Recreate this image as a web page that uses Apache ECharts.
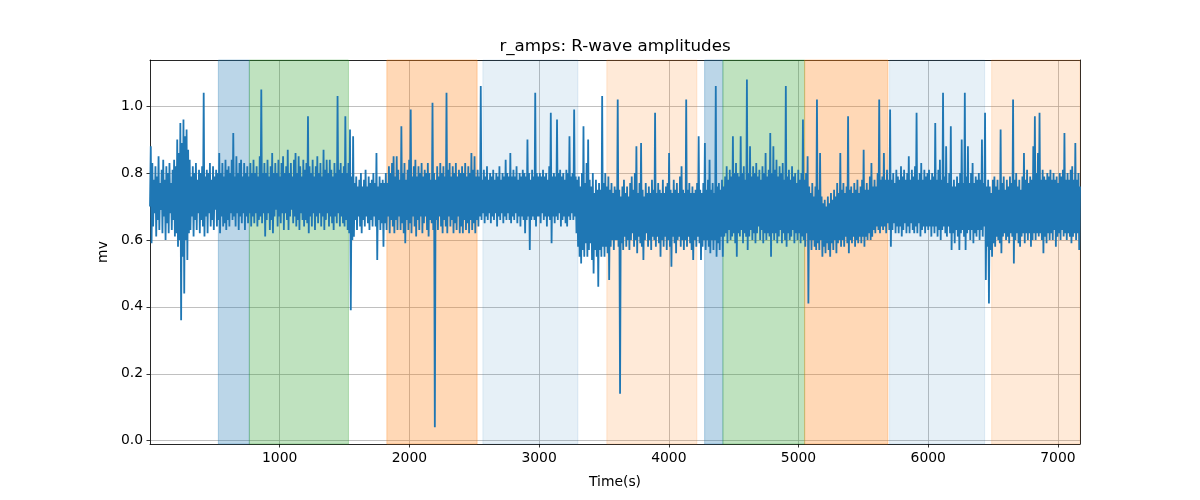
<!DOCTYPE html>
<html><head><meta charset="utf-8">
<script src="https://cdn.jsdelivr.net/npm/echarts@6/dist/echarts.min.js"></script>
<style>html,body{margin:0;padding:0;background:#fff}#c{width:1200px;height:500px}</style>
</head><body><div id="c"></div>
<script>
// sample grid (seconds)
const sampleStart = 0, sampleStep = 6;
// R-wave amplitudes (mV), 600 s per chunk
const amps0000 = [0.70,0.88,0.59,0.83,0.64,0.78,0.68,0.82,0.61,0.79,0.66,0.85,0.63,0.77,0.69,0.81,0.62,0.84,0.67,0.78,0.60,0.82,0.65,0.80,0.62,0.83,0.68,0.77,0.63,0.81,0.66,0.84,0.61,0.82,0.62,0.90,0.58,0.86,0.60,0.95,0.36,0.89,0.55,0.96,0.44,0.91,0.60,0.93,0.54,0.87,0.62,0.84,0.63,0.79,0.67,0.82,0.61,0.80,0.66,0.83,0.63,0.78,0.68,0.81,0.62,0.80,0.66,0.82,0.64,1.04,0.61,0.79,0.67,0.81,0.62,0.80,0.68,0.83,0.64,0.78,0.66,0.82,0.63,0.79,0.69,0.81,0.64,0.80,0.66,0.86,0.62,0.80,0.67,0.83,0.64,0.79,0.65,0.84,0.63,0.81];
const amps0600 = [0.66,0.82,0.64,0.80,0.68,0.84,0.66,0.92,0.67,0.79,0.64,0.85,0.68,0.80,0.63,0.83,0.67,0.84,0.65,0.79,0.68,0.83,0.63,0.80,0.67,0.82,0.65,0.79,0.68,0.83,0.64,0.80,0.67,0.84,0.65,0.80,0.68,0.82,0.64,0.79,0.66,0.85,0.67,1.05,0.65,0.80,0.68,0.83,0.61,0.80,0.66,0.84,0.68,0.79,0.63,0.82,0.66,0.86,0.62,0.80,0.67,0.83,0.69,0.80,0.64,0.84,0.67,0.79,0.65,0.83,0.68,0.85,0.63,0.80,0.68,0.82,0.66,0.87,0.63,0.80,0.67,0.83,0.69,0.79,0.65,0.84,0.67,0.86,0.64,0.80,0.66,0.85,0.63,0.82,0.68,0.79,0.66,0.84,0.64,0.81];
const amps1200 = [0.66,0.83,0.65,0.97,0.62,0.82,0.67,0.80,0.64,0.84,0.68,0.79,0.63,0.82,0.67,0.85,0.65,0.80,0.68,0.83,0.64,0.79,0.67,0.87,0.63,0.81,0.66,0.84,0.68,0.80,0.64,0.84,0.67,0.81,0.65,0.79,0.63,0.83,0.67,0.80,0.65,1.03,0.68,0.81,0.64,0.83,0.67,0.80,0.65,0.82,0.64,0.97,0.66,0.80,0.63,0.83,0.62,0.93,0.39,0.79,0.60,0.91,0.61,0.77,0.66,0.79,0.63,0.76,0.67,0.78,0.64,0.80,0.62,0.76,0.66,0.78,0.64,0.81,0.67,0.76,0.65,0.79,0.63,0.77,0.66,0.78,0.64,0.80,0.67,0.77,0.64,0.86,0.54,0.76,0.66,0.79,0.63,0.77,0.65,0.78];
const amps1800 = [0.58,0.77,0.65,0.80,0.63,0.77,0.67,0.82,0.62,0.80,0.66,0.83,0.64,0.85,0.62,0.79,0.66,0.85,0.63,0.81,0.67,0.78,0.63,0.94,0.65,0.80,0.62,0.83,0.59,0.78,0.66,0.81,0.63,0.84,0.65,0.99,0.62,0.79,0.67,0.82,0.64,0.84,0.61,0.79,0.66,0.82,0.63,0.80,0.67,0.83,0.62,0.79,0.65,0.81,0.67,0.80,0.63,0.83,0.61,0.80,0.66,0.78,0.65,1.01,0.63,0.80,0.04,0.78,0.66,0.82,0.63,0.79,0.67,0.83,0.64,0.80,0.62,0.82,0.66,0.79,0.64,1.04,0.62,0.81,0.67,0.83,0.64,0.79,0.66,0.82,0.62,0.80,0.65,0.83,0.63,0.79,0.67,0.81,0.62,0.80];
const amps2400 = [0.64,0.82,0.62,0.80,0.66,0.83,0.63,0.79,0.65,0.82,0.62,0.80,0.66,0.86,0.63,0.81,0.65,0.85,0.62,0.79,0.66,0.81,0.64,0.79,0.67,1.06,0.66,0.78,0.68,0.81,0.65,0.79,0.67,0.82,0.66,0.78,0.68,0.80,0.65,0.79,0.67,0.81,0.66,0.78,0.68,0.80,0.64,0.79,0.67,0.82,0.66,0.78,0.68,0.80,0.65,0.79,0.67,0.84,0.66,0.80,0.68,0.79,0.66,0.86,0.65,0.79,0.67,0.81,0.66,0.79,0.68,0.82,0.65,0.78,0.67,0.80,0.64,0.79,0.67,0.81,0.66,0.80,0.62,0.79,0.66,0.90,0.67,0.80,0.57,0.78,0.66,0.81,0.67,0.79,0.66,1.04,0.64,0.80,0.67,0.79];
const amps3000 = [0.67,0.80,0.65,0.79,0.68,0.81,0.66,0.79,0.67,0.80,0.64,0.78,0.67,0.82,0.66,0.98,0.59,0.79,0.67,0.80,0.65,0.79,0.67,0.96,0.66,0.80,0.68,0.81,0.64,0.79,0.66,0.80,0.67,0.78,0.65,0.81,0.64,0.80,0.67,0.91,0.66,0.79,0.68,0.80,0.66,0.99,0.67,0.79,0.62,0.78,0.58,0.79,0.55,0.76,0.53,0.80,0.57,0.94,0.55,0.77,0.59,0.83,0.55,0.90,0.57,0.78,0.59,0.76,0.54,0.80,0.50,0.74,0.57,0.78,0.55,0.75,0.46,0.77,0.57,0.75,0.55,1.03,0.58,0.77,0.55,0.80,0.58,0.76,0.56,0.79,0.48,0.75,0.58,0.77,0.60,0.74,0.57,0.76,0.60,0.75];
const amps3600 = [0.60,1.02,0.58,0.75,0.14,0.73,0.59,0.76,0.57,0.78,0.61,0.74,0.58,0.76,0.60,0.73,0.57,0.77,0.60,0.79,0.62,0.75,0.58,0.80,0.60,0.88,0.56,0.74,0.61,0.77,0.59,0.89,0.58,0.75,0.54,0.73,0.60,0.77,0.62,0.74,0.58,0.76,0.60,0.74,0.57,0.78,0.61,0.75,0.60,0.98,0.58,0.74,0.61,0.77,0.59,0.75,0.55,0.74,0.60,0.78,0.58,0.74,0.61,0.76,0.57,0.77,0.60,0.86,0.58,0.75,0.52,0.74,0.61,0.78,0.59,0.75,0.56,0.77,0.60,0.74,0.61,0.79,0.58,0.82,0.60,0.75,0.57,0.74,0.60,1.02,0.58,0.75,0.61,0.77,0.59,0.74,0.57,0.76,0.54,0.74];
const amps4200 = [0.60,0.75,0.58,0.77,0.61,0.91,0.59,0.75,0.54,0.74,0.58,0.77,0.60,0.89,0.57,0.75,0.60,0.78,0.58,0.84,0.56,0.75,0.60,0.77,0.57,0.74,0.60,1.06,0.55,0.76,0.59,0.77,0.57,0.75,0.61,0.78,0.55,0.76,0.61,0.79,0.62,0.82,0.59,0.78,0.63,0.81,0.60,0.79,0.61,0.91,0.62,0.80,0.59,0.83,0.55,0.80,0.62,0.79,0.61,0.91,0.63,0.80,0.59,0.82,0.62,0.78,0.61,1.08,0.57,0.80,0.61,0.88,0.63,0.79,0.60,0.82,0.62,0.80,0.59,0.83,0.62,0.79,0.64,0.81,0.60,0.78,0.63,0.82,0.59,0.80,0.62,0.86,0.60,0.79,0.62,0.81,0.61,0.92,0.55,0.80];
const amps4800 = [0.62,0.88,0.60,0.81,0.62,0.84,0.59,0.79,0.61,0.82,0.63,0.80,0.59,0.83,0.62,0.78,0.60,1.06,0.58,0.79,0.62,0.81,0.60,0.78,0.61,0.82,0.63,0.79,0.59,0.80,0.62,0.77,0.60,0.81,0.62,0.78,0.59,0.80,0.61,0.96,0.60,0.78,0.58,0.80,0.62,0.85,0.41,0.76,0.60,0.74,0.57,0.77,0.60,0.73,0.58,0.76,0.57,1.02,0.59,0.75,0.57,0.86,0.60,0.73,0.55,0.71,0.58,0.72,0.56,0.70,0.59,0.73,0.57,0.71,0.55,0.74,0.59,0.72,0.57,0.75,0.60,0.73,0.56,0.77,0.59,0.74,0.60,0.86,0.58,0.75,0.60,0.77,0.58,0.74,0.61,0.76,0.59,0.97,0.56,0.75];
const amps5400 = [0.60,0.76,0.59,0.74,0.61,0.77,0.58,0.75,0.60,0.78,0.59,0.74,0.61,0.76,0.59,0.78,0.61,0.87,0.58,0.75,0.61,0.77,0.60,0.75,0.62,0.79,0.60,0.83,0.61,0.76,0.63,0.78,0.62,0.76,0.64,0.80,0.63,1.02,0.62,0.78,0.64,0.79,0.63,0.86,0.64,0.78,0.62,0.81,0.65,0.78,0.63,0.99,0.58,0.78,0.63,0.80,0.65,0.77,0.62,0.81,0.64,0.79,0.62,0.78,0.64,0.82,0.61,0.79,0.63,0.81,0.65,0.78,0.62,0.80,0.64,0.85,0.62,0.78,0.65,0.81,0.63,0.79,0.62,0.82,0.64,0.98,0.62,0.78,0.65,0.80,0.61,0.83,0.63,0.78,0.64,0.81,0.62,0.79,0.64,0.80];
const amps6000 = [0.63,0.81,0.64,0.78,0.61,0.80,0.64,0.79,0.62,0.95,0.64,0.78,0.61,0.81,0.63,0.84,0.60,0.78,0.63,1.04,0.64,0.79,0.62,0.88,0.61,0.77,0.64,0.80,0.62,0.94,0.57,0.76,0.62,0.78,0.59,0.76,0.63,0.79,0.61,0.77,0.57,0.80,0.62,0.90,0.63,0.77,0.61,1.04,0.57,0.79,0.62,0.88,0.63,0.77,0.60,0.80,0.63,0.83,0.59,0.77,0.62,0.79,0.61,0.78,0.63,0.80,0.60,0.78,0.63,0.90,0.61,0.77,0.64,0.98,0.48,0.76,0.58,0.78,0.41,0.76,0.57,0.74,0.55,0.78,0.59,0.79,0.58,0.76,0.61,0.78,0.60,0.75,0.59,0.93,0.56,0.77,0.61,0.79,0.62,0.75];
const amps6600 = [0.60,0.78,0.61,0.76,0.59,0.79,0.62,0.77,0.61,1.02,0.53,0.78,0.60,0.80,0.62,0.76,0.59,0.78,0.58,0.75,0.61,0.79,0.62,0.86,0.59,0.78,0.62,0.81,0.60,0.77,0.62,0.79,0.58,0.78,0.60,0.88,0.62,0.97,0.60,0.80,0.62,0.86,0.61,0.98,0.62,0.78,0.60,0.81,0.56,0.79,0.61,0.78,0.59,0.80,0.62,0.79,0.60,0.81,0.62,0.78,0.60,0.80,0.63,0.78,0.58,0.79,0.61,0.77,0.62,0.80,0.60,0.79,0.63,0.81,0.61,0.92,0.62,0.78,0.60,0.80,0.62,0.78,0.61,0.81,0.59,0.82,0.61,0.78,0.62,0.89,0.60,0.78,0.62,0.80,0.57,0.76];

// shaded phases (seconds) and their kind
const spanStart = [527, 766, 1826, 2566, 3522, 4276, 4417, 5047, 5702, 6489];
const spanEnd   = [766, 1530, 2522, 3299, 4216, 4417, 5047, 5689, 6435, 7170];
const spanKind  = [0, 1, 2, 3, 4, 0, 1, 2, 3, 4];

const yTickValues = [0, 0.2, 0.4, 0.6, 0.8, 1.0];

// ---- build ----
const amps = [].concat(amps0000, amps0600, amps1200, amps1800, amps2400, amps3000,
  amps3600, amps4200, amps4800, amps5400, amps6000, amps6600);
const seriesData = amps.map((v, i) => [sampleStart + i * sampleStep, v]);

const kindColors = [
  'rgba(31,119,180,0.3)',
  'rgba(44,160,44,0.3)',
  'rgba(255,127,14,0.3)',
  'rgba(31,119,180,0.11)',
  'rgba(255,127,14,0.16)'
];
const areaData = spanStart.map((s, k) => [
  { xAxis: s, itemStyle: { color: kindColors[spanKind[k]], borderColor: kindColors[spanKind[k]], borderWidth: 1 } },
  { xAxis: spanEnd[k] }
]);

const FONT = 'DejaVu Sans';
const xMin = 0, xMax = 7170, yMin = -0.01, yMax = 1.138;

const chart = echarts.init(document.getElementById('c'), null, { renderer: 'canvas' });
chart.setOption({
  animation: false,
  backgroundColor: '#fff',
  title: {
    text: 'r_amps: R-wave amplitudes',
    left: 615, top: 38, textAlign: 'center', padding: 0,
    textStyle: { fontFamily: FONT, fontSize: 16.7, fontWeight: 'normal', color: '#000' }
  },
  grid: { left: 150, right: 120, top: 60, bottom: 56, containLabel: false },
  xAxis: [{
    type: 'value', min: xMin, max: xMax, minInterval: 1000, maxInterval: 1000,
    name: 'Time(s)', nameLocation: 'middle', nameGap: 31,
    nameTextStyle: { fontFamily: FONT, fontSize: 13.9, color: '#000' },
    axisLine: { show: true, onZero: false, lineStyle: { color: '#000', width: 0.8 } },
    axisTick: { show: true, length: 3.5, lineStyle: { color: '#000', width: 0.8 } },
    axisLabel: { fontFamily: FONT, fontSize: 13.9, color: '#000', margin: 7, showMinLabel: false, showMaxLabel: false,
      formatter: v => String(Math.round(v)) },
    splitLine: { show: true, lineStyle: { color: '#b0b0b0', width: 0.8 } }
  }, {
    type: 'value', position: 'top', min: xMin, max: xMax,
    axisLine: { show: true, onZero: false, lineStyle: { color: '#000', width: 0.8 } },
    axisTick: { show: false }, axisLabel: { show: false }, splitLine: { show: false }
  }],
  yAxis: [{
    type: 'value', min: yMin, max: yMax, minInterval: 0.2, maxInterval: 0.2,
    name: 'mv', nameLocation: 'middle', nameGap: 35, nameRotate: 90,
    nameTextStyle: { fontFamily: FONT, fontSize: 13.9, color: '#000' },
    axisLine: { show: true, onZero: false, lineStyle: { color: '#000', width: 0.8 } },
    axisTick: { show: true, length: 3.5, lineStyle: { color: '#000', width: 0.8 } },
    axisLabel: {
      fontFamily: FONT, fontSize: 13.9, color: '#000', margin: 7,
      showMinLabel: false, showMaxLabel: false,
      formatter: v => (yTickValues.some(t => Math.abs(t - v) < 1e-6) ? v.toFixed(1) : '')
    },
    splitLine: { show: true, lineStyle: { color: '#b0b0b0', width: 0.8 } }
  }, {
    type: 'value', position: 'right', min: yMin, max: yMax,
    axisLine: { show: true, onZero: false, lineStyle: { color: '#000', width: 0.8 } },
    axisTick: { show: false }, axisLabel: { show: false }, splitLine: { show: false }
  }],
  series: [{
    type: 'line',
    data: seriesData,
    xAxisIndex: 0, yAxisIndex: 0,
    showSymbol: false, symbol: 'none',
    lineStyle: { color: '#1f77b4', width: 1.8 },
    itemStyle: { color: '#1f77b4' },
    clip: true,
    markArea: { silent: true, label: { show: false }, data: areaData }
  }]
});
</script></body></html>
